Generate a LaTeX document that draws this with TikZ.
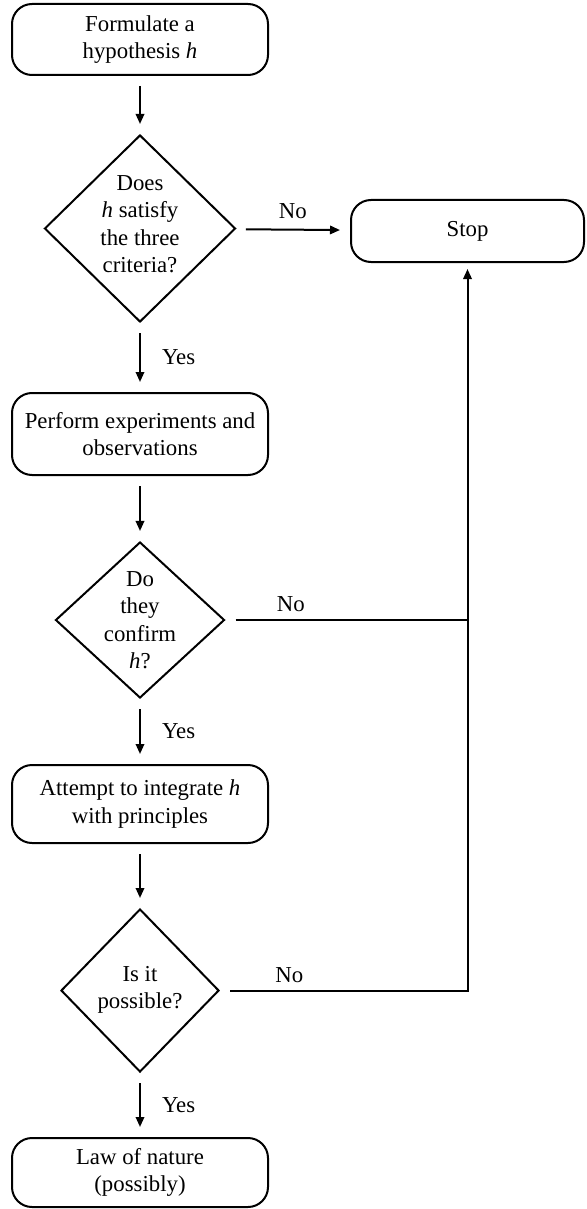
\documentclass[tikz,border=0pt]{standalone}
\usepackage{fontspec}
\setmainfont{Liberation Serif}
\usetikzlibrary{shapes.geometric,arrows.meta}
\begin{document}
\begin{tikzpicture}[x=0.5pt,y=-0.5pt,
  font=\fontsize{11.4}{13.7}\selectfont,
  line width=1pt,
  box/.style={draw,rounded corners=10pt,minimum width=128pt,align=center,inner sep=0pt},
  dia/.style={draw,diamond,inner sep=0pt},
  txt/.style={align=center,inner sep=0pt},
  arr/.style={-{Triangle[length=5pt,width=4.2pt]},shorten <=5pt,shorten >=5pt},
  lnk/.style={shorten <=5pt},
  ylbl/.style={midway,right=10.5pt,inner sep=0pt},
  nlbl/.style={inner sep=0pt}
]
\useasboundingbox (0,0) rectangle (586,1209);

\node[box,minimum height=35.5pt] (b1) at (140,39.5) {Formulate a\\hypothesis \textit{h}};
\node[dia,minimum width=95.5pt,minimum height=93.5pt] (d1) at (140,228.5) {};
\node[txt] (t1) at (140,224) {Does\\\textit{h} satisfy\\the three\\criteria?};
\node[box,minimum width=116.5pt,minimum height=31pt] (stop) at (467.5,231) {Stop};
\node[box,minimum height=41pt] (b2) at (140,434) {Perform experiments and\\observations};
\node[dia,minimum width=84.5pt,minimum height=78pt] (d2) at (140,620) {};
\node[txt] (t2) at (140,620) {Do\\they\\confirm\\\textit{h}?};
\node[box,minimum height=39pt] (b3) at (140,804) {Attempt to integrate \textit{h}\\with principles};
\node[dia,minimum width=79pt,minimum height=81.5pt] (d3) at (140,990.5) {};
\node[txt] (t3) at (140,990) {Is it\\possible?};
\node[box,minimum height=34.5pt] (b4) at (140,1172.5) {Law of nature\\(possibly)};

\coordinate (c2) at (stop.south |- d2.east);
\coordinate (c3) at (stop.south |- d3.east);

\draw[arr] (b1) -- (d1);
\draw[arr] (d1) -- node[nlbl,midway,above=5pt] {No} (stop);
\draw[arr] (d1) -- node[ylbl] {Yes} (b2);
\draw[arr] (b2) -- (d2);
\draw[lnk] (d2.east) -- node[nlbl,pos=0.27,above=3.5pt] {No} (c2);
\draw[arr] (d2) -- node[ylbl] {Yes} (b3);
\draw[arr] (b3) -- (d3);
\draw[-{Triangle[length=5pt,width=4.2pt]},shorten <=5pt,shorten >=3pt] (d3.east) -- node[nlbl,pos=0.28,above=3.5pt] {No} (c3) -- (stop.south);
\draw[arr] (d3) -- node[ylbl] {Yes} (b4);
\end{tikzpicture}
\end{document}
